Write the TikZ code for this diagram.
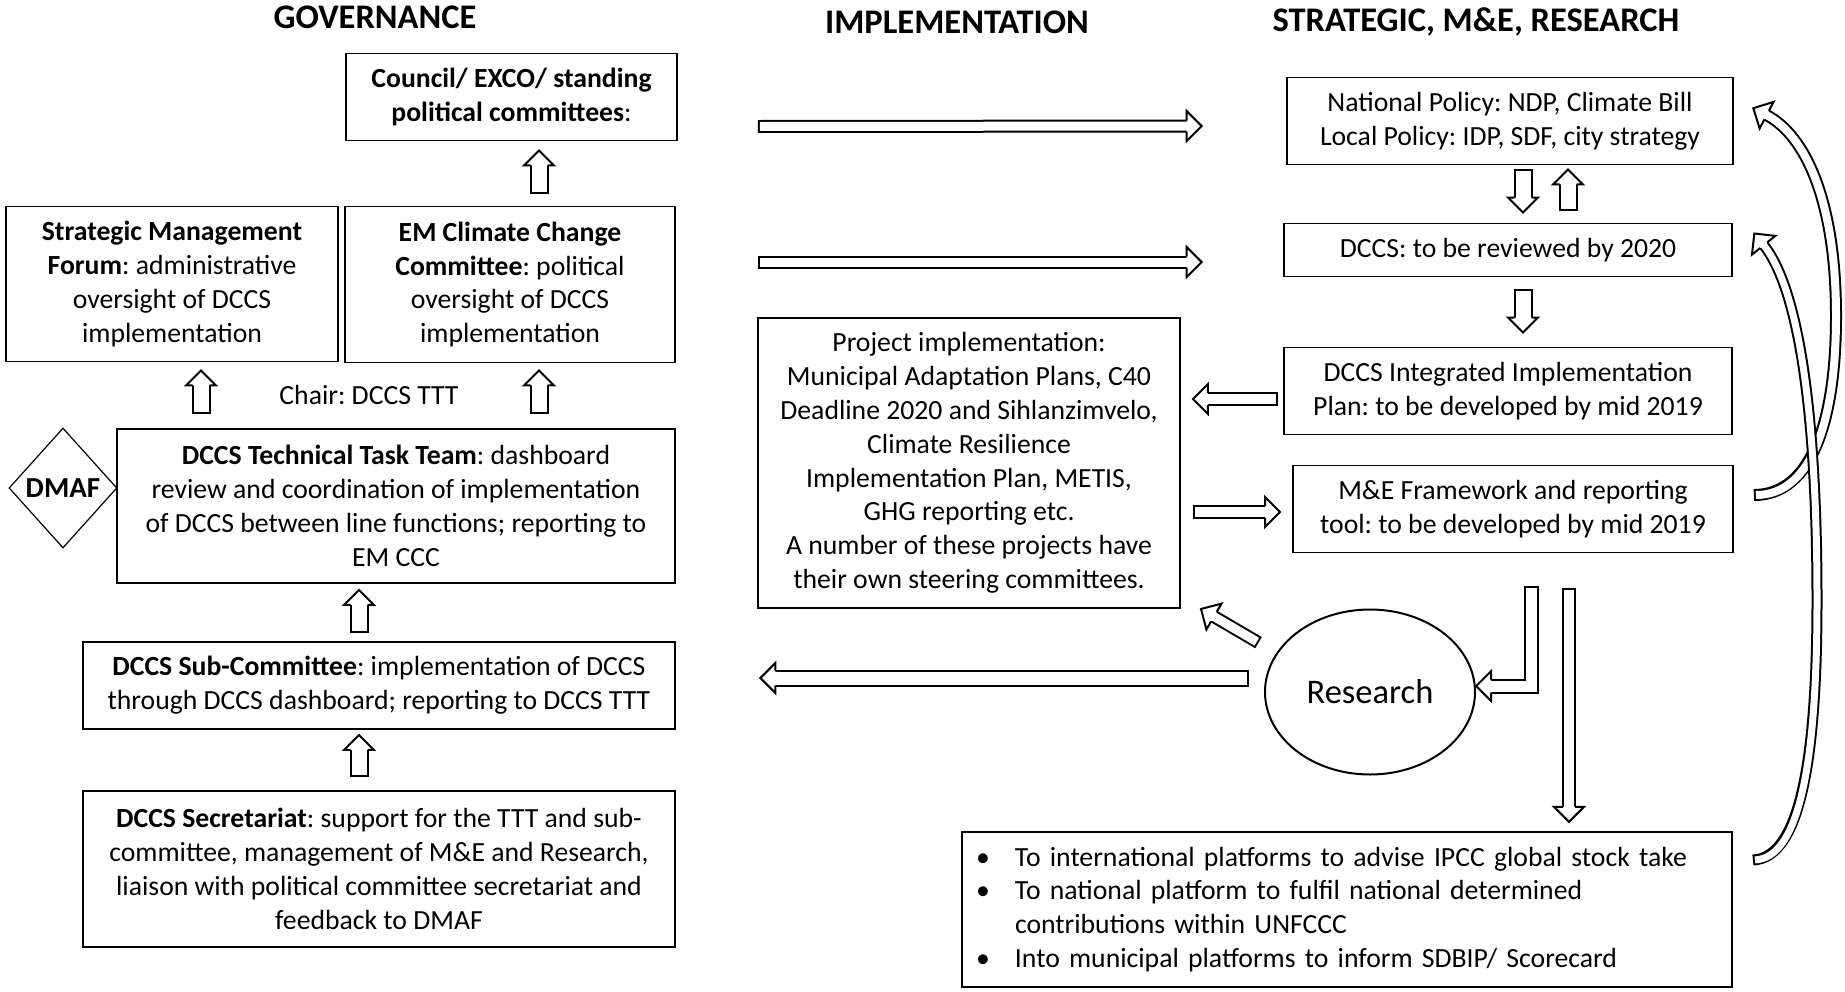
\documentclass[tikz,border=0pt]{standalone}
\usepackage{fontspec}
\setmainfont{Carlito}
\frenchspacing
\usetikzlibrary{shapes.geometric,decorations.markings}

\tikzset{
    every node/.style={font=\fontsize{27.7}{33.8}\selectfont},
    box/.style={draw, line width=1.8pt, align=center, inner sep=0pt},
    heading/.style={font=\fontsize{34.5}{41}\selectfont\bfseries},
    blockarrow/.style={
        preaction={draw=black, line width=#1+4pt, shorten <=0pt, shorten >=15pt},
        draw=white, line width=#1, shorten >=15pt, shorten <=2pt,
        postaction={decorate, decoration={markings, mark=at position 0.999 with {
            \fill[white, shorten <=0pt, shorten >=0pt] (-15pt,-15pt) -- (0pt,0pt) -- (-15pt,15pt) -- cycle;
            \draw[black, line width=2pt, line join=miter, shorten <=0pt, shorten >=0pt]
                (-15pt,#1/2+1pt) -- (-15pt,15pt) -- (0pt,0pt) -- (-15pt,-15pt) -- (-15pt,-#1/2-1pt);
        }}}
    },
    blockarrow/.default=11pt
}

\begin{document}
\begin{tikzpicture}[x=1pt, y=-1pt]
    \useasboundingbox (0,0) rectangle (1845,991);

    \node (govhead) [heading] at (375,17) {GOVERNANCE};
    \node (imphead) [heading] at (957,22) {IMPLEMENTATION};
    \node (strathead) [heading] at (1476,22) {STRATEGIC, M\&E, RESEARCH};

    % governance column
    \node (council) [box, minimum width=331pt, minimum height=87pt] at (511.5,97)
        {\textbf{Council/ EXCO/ standing}\\\textbf{political committees}:};
    \node (forum) [box, minimum width=332pt, minimum height=155pt] at (172,284)
        {\textbf{Strategic Management}\\\textbf{Forum}: administrative\\oversight of DCCS\\implementation};
    \node (emccc) [box, minimum width=330pt, minimum height=156pt] at (510,284.5)
        {\textbf{EM Climate Change}\\\textbf{Committee}: political\\oversight of DCCS\\implementation};
    \node (chair) at (369,395) {Chair: DCCS TTT};
    \node (ttt) [box, minimum width=558pt, minimum height=154pt] at (396,506)
        {\textbf{DCCS Technical Task Team}: dashboard\\review and coordination of implementation\\of DCCS between line functions; reporting to\\EM CCC};
    \node (dmaf) [diamond, draw, line width=1.2pt, minimum width=108pt, minimum height=120pt, inner sep=0pt,
        font=\fontsize{29}{34}\selectfont\bfseries] at (63,488) {DMAF};
    \node (sub) [box, minimum width=592pt, minimum height=87pt] at (379,685.5)
        {\textbf{DCCS Sub-Committee}: implementation of DCCS\\through DCCS dashboard; reporting to DCCS TTT};
    \node (secr) [box, minimum width=592pt, minimum height=156pt] at (379,869)
        {\textbf{DCCS Secretariat}: support for the TTT and sub-\\committee, management of M\&E and Research,\\liaison with political committee secretariat and\\feedback to DMAF};

    % implementation column
    \node (project) [box, minimum width=422pt, minimum height=290pt] at (969,463)
        {Project implementation:\\Municipal Adaptation Plans, C40\\Deadline 2020 and Sihlanzimvelo,\\Climate Resilience\\Implementation Plan, METIS,\\GHG reporting etc.\\A number of these projects have\\their own steering committees.};

    % strategic column
    \node (natpol) [box, minimum width=446pt, minimum height=87pt] at (1510,121)
        {National Policy: NDP, Climate Bill\\Local Policy: IDP, SDF, city strategy};
    \node (review) [box, minimum width=448pt, minimum height=53pt] at (1508,250)
        {DCCS: to be reviewed by 2020};
    \node (iip) [box, minimum width=448pt, minimum height=87pt] at (1508,391)
        {DCCS Integrated Implementation\\Plan: to be developed by mid 2019};
    \node (me) [box, minimum width=440pt, minimum height=87pt] at (1513,509)
        {M\&E Framework and reporting\\tool: to be developed by mid 2019};
    \node (research) [ellipse, draw, line width=2pt, minimum width=210pt, minimum height=165pt, inner sep=0pt,
        font=\fontsize{34.5}{40}\selectfont] at (1370,692) {Research};
    \node (outputs) [box, minimum width=770pt, minimum height=155pt, text width=742pt, align=left] at (1347,909.5)
        {\makebox[39pt][l]{\textbullet}To international platforms to advise IPCC global stock take\\
         \makebox[39pt][l]{\textbullet}To national platform to fulfil national determined\\
         \makebox[39pt][l]{}contributions within UNFCCC\\
         \makebox[39pt][l]{\textbullet}Into municipal platforms to inform SDBIP/ Scorecard};

    % arrows
    \draw[blockarrow=15pt] ([xshift=29pt, yshift=12pt]emccc.north) -- ([xshift=27.5pt, yshift=-9pt]council.south);
    \draw[blockarrow=15pt] ([xshift=-195pt, yshift=14pt]ttt.north) -- ([xshift=29pt, yshift=-8pt]forum.south);
    \draw[blockarrow=15pt] ([xshift=143pt, yshift=14pt]ttt.north) -- ([xshift=29pt, yshift=-7pt]emccc.south);
    \draw[blockarrow=15pt] ([xshift=-20pt, yshift=8pt]sub.north) -- ([xshift=-37pt, yshift=-6pt]ttt.south);
    \draw[blockarrow=15pt] ([xshift=-20pt, yshift=13pt]secr.north) -- ([xshift=-20pt, yshift=-5pt]sub.south);

    \draw[blockarrow=9pt] ([xshift=80pt, yshift=-29.5pt]council.east) -- ([xshift=-84pt, yshift=-5pt]natpol.west);
    \draw[blockarrow=9pt] ([xshift=82pt, yshift=22.5pt]emccc.east) -- ([xshift=-81pt, yshift=-12pt]review.west);

    \draw[blockarrow=15pt] ([xshift=13pt, yshift=-4pt]natpol.south) -- ([xshift=15pt, yshift=10pt]review.north);
    \draw[blockarrow=15pt] ([xshift=60pt, yshift=12pt]review.north) -- ([xshift=58pt, yshift=-4pt]natpol.south);
    \draw[blockarrow=15pt] ([xshift=15pt, yshift=-12pt]review.south) -- ([xshift=15pt, yshift=14pt]iip.north);

    \draw[blockarrow=10pt] ([xshift=-5pt, yshift=-8pt]iip.west) -- ([xshift=12pt, yshift=64pt]project.east);
    \draw[blockarrow=10pt] ([xshift=12pt, yshift=-49pt]project.east) -- ([xshift=-12pt, yshift=-3pt]me.west);

    \draw[blockarrow=11pt] ([xshift=18pt, yshift=-33pt]me.south) |- ([yshift=6pt]research.east);
    \draw[blockarrow=10pt] ([xshift=56pt, yshift=-35pt]me.south) -- ([xshift=222pt, yshift=9pt]outputs.north);
    \draw[blockarrow=13pt] ([xshift=-15pt, yshift=14pt]research.west) -- ([xshift=84pt, yshift=7.5pt]sub.east);
    \draw[blockarrow=9pt] ([xshift=-26pt]research.150) -- ([xshift=20pt]project.south east);

    \draw[blockarrow=8pt] ([xshift=20pt, yshift=14pt]me.east)
        .. controls (1812,495) and (1836,420) .. (1836,316)
        .. controls (1836,200) and (1805,135) .. ([xshift=19pt, yshift=13pt]natpol.east);
    \draw[blockarrow=7pt] ([xshift=20pt, yshift=49.5pt]outputs.east)
        .. controls (1800,858) and (1817,760) .. (1817,600)
        .. controls (1817,420) and (1800,290) .. ([xshift=21pt, yshift=17pt]review.east);
\end{tikzpicture}
\end{document}
